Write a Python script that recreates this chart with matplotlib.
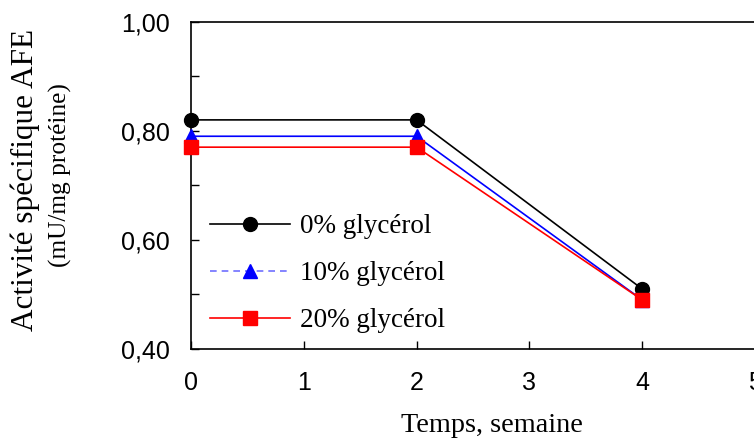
import matplotlib
matplotlib.use("Agg")
import matplotlib.pyplot as plt
from matplotlib.lines import Line2D
from matplotlib.ticker import MultipleLocator, FixedLocator, FuncFormatter

# Weeks of storage and specific AFE activity for each glycerol level
weeks = [0, 2, 4]
act_0 = [0.82, 0.82, 0.51]
act_10 = [0.79, 0.79, 0.49]
act_20 = [0.77, 0.77, 0.49]
series_labels = ["0% glycérol", "10% glycérol", "20% glycérol"]
x_ticks = [0, 1, 2, 3, 4, 5]
y_ticks = [0.40, 0.60, 0.80, 1.00]

serif = ["Liberation Serif", "DejaVu Serif"]
sans = ["Liberation Sans", "DejaVu Sans"]

fig = plt.figure(figsize=(7.54, 4.41), dpi=100)
ax = fig.add_axes([191 / 754, 1 - 349 / 441, 564 / 754, (349 - 21.7) / 441])

ax.plot(weeks, act_0, color="black", lw=1.2, marker="o", ms=10, clip_on=False, zorder=3)
ax.plot(weeks, act_10, color="#0000ff", lw=1.2, marker="^", ms=10, clip_on=False, zorder=4)
ax.plot(weeks, act_20, color="#ff0000", lw=1.2, marker="s", ms=9.5, clip_on=False, zorder=5)

ax.set_xlim(0, 5)
ax.set_ylim(0.40, 1.00)
ax.xaxis.set_major_locator(FixedLocator(x_ticks))
ax.yaxis.set_major_locator(FixedLocator(y_ticks))
ax.yaxis.set_minor_locator(MultipleLocator(0.1))
ax.yaxis.set_major_formatter(FuncFormatter(lambda v, p: f"{v:.2f}".replace(".", ",")))

for side in ("top", "bottom", "left", "right"):
    ax.spines[side].set_linewidth(1.2)

ax.tick_params(axis="both", which="both", direction="in", width=1.0,
               labelsize=18, colors="black")
ax.tick_params(axis="x", which="major", length=6, pad=16)
ax.tick_params(axis="y", which="major", length=6, pad=15)
ax.tick_params(axis="y", which="minor", length=6)
ax.tick_params(top=False, right=False, which="both")
for lab in ax.get_xticklabels() + ax.get_yticklabels():
    lab.set_fontfamily(sans)

# Legend handles (10% entry uses a light dashed line)
handles = [
    Line2D([], [], color="black", lw=1.2, marker="o", ms=10),
    Line2D([], [], color="#6f6fff", lw=1.2, ls=(0, (4, 3)), marker="^", ms=10,
           mfc="#0000ff", mec="#0000ff"),
    Line2D([], [], color="#ff0000", lw=1.2, marker="s", ms=9.5),
]
leg = ax.legend(handles, series_labels, loc="upper left",
                bbox_to_anchor=(210 / 754, 1 - 214 / 441),
                bbox_transform=fig.transFigure,
                frameon=False, handlelength=2.95, handletextpad=0.37,
                labelspacing=0.82, borderpad=0, borderaxespad=0,
                prop={"family": serif, "size": 19.5})

fig.text(492 / 754, 1 - 426 / 441, "Temps, semaine", ha="center", va="center",
         fontsize=20.3, family=serif)
fig.text(25 / 754, 1 - 180 / 441, "Activité spécifique AFE", rotation=90,
         ha="center", va="center", fontsize=22.5, family=serif)
fig.text(60 / 754, 1 - 175 / 441, "(mU/mg protéine)", rotation=90,
         ha="center", va="center", fontsize=18.3, family=serif)

fig.savefig("out.png", dpi=100)
